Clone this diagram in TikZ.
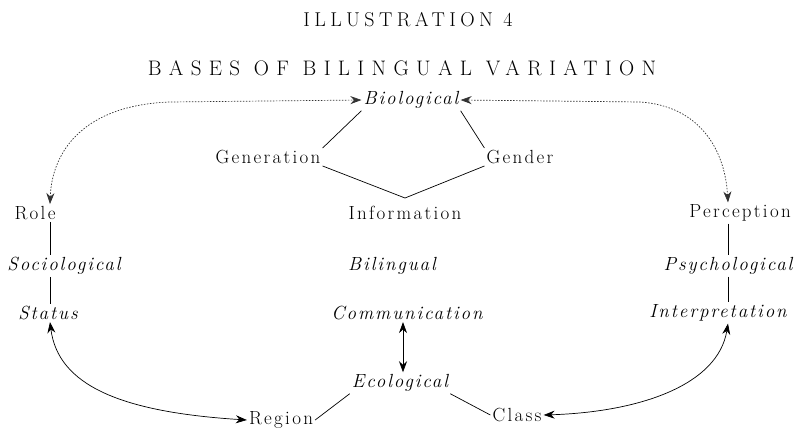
\documentclass[tikz,border=0pt]{standalone}
\usepackage{fontspec}
\setmainfont{Latin Modern Roman}
\usetikzlibrary{arrows.meta}
\begin{document}
\begin{tikzpicture}[x=1pt,y=-1pt,
  headline/.style={font=\fontsize{21}{24}\selectfont\addfontfeature{LetterSpace=35}, inner sep=0pt},
  lbl/.style={font=\fontsize{19}{22}\selectfont\addfontfeature{LetterSpace=12}, inner sep=2pt},
  ital/.style={font=\fontsize{19}{22}\selectfont\itshape\addfontfeature{LetterSpace=10}, inner sep=2pt},
  link/.style={line width=0.7pt},
  faint/.style={line width=0.7pt, dash pattern=on 1.5pt off 1.5pt, black!80},
  tip/.style={{Stealth[length=11pt,width=8pt]}-{Stealth[length=11pt,width=8pt]}}
]
\useasboundingbox (0,0) rectangle (799,433);

% headings
\node[headline, font=\fontsize{20}{24}\selectfont\addfontfeature{LetterSpace=22}] (t1) at (408,20) {ILLUSTRATION 4};
\node[headline] (t2) at (402,68) {BASES OF BILINGUAL VARIATION};

% terms
\node[ital] (bio) at (411,100) {Biological};
\node[lbl] (gen) at (268,157) {Generation};
\node[lbl] (gend) at (520,157) {Gender};
\node[lbl] (info) at (405,213) {Information};
\node[lbl] (role) at (35,213) {Role};
\node[lbl] (perc) at (740,213) {Perception};
\node[ital] (soc) at (64,266) {Sociological};
\node[ital] (bil) at (392,266) {Bilingual};
\node[ital] (psy) at (728,266) {Psychological};
\node[ital] (status) at (48,313) {Status};
\node[ital] (comm) at (407,313) {Communication};
\node[ital] (interp) at (718,313) {Interpretation};
\node[ital] (eco) at (400,383) {Ecological};
\node[lbl] (region) at (281,420) {Region};
\node[lbl] (class) at (517,415) {Class};

\coordinate (lx) at (50,0);
\coordinate (rx) at (728,0);
\coordinate (mx) at (403,0);
\coordinate (apex) at (405,198);

% biological branch
\draw[link] (bio.south west) -- (gen.north east);
\draw[link] (bio.south east) -- (gend.north west);
\draw[link] (gen.south east) -- (apex) -- (gend.south west);

% sociological and psychological axes
\draw[link] (role.south -| lx) -- (soc.north -| lx);
\draw[link] (soc.south -| lx) -- (status.north -| lx);
\draw[link] (perc.south -| rx) -- (psy.north -| rx);
\draw[link] (psy.south -| rx) -- (interp.north -| rx);

% ecological branch
\draw[link] (region.east) -- (eco.south west);
\draw[link] (eco.south east) -- (class.west);
\draw[link, tip] (comm.south -| mx) -- (eco.north -| mx);

% outer arcs
\draw[faint, tip] (role.north -| lx) .. controls (52,150) and (85,105) .. (170,102) -- (bio.west);
\draw[faint, tip] (perc.north -| rx) .. controls (725,150) and (700,106) .. (640,102) -- (bio.east);
\draw[link, tip] (status.south -| lx) .. controls (58,385) and (120,412) .. (region.west);
\draw[link, tip] (interp.south -| rx) .. controls (718,385) and (640,412) .. (class.east);
\end{tikzpicture}
\end{document}
